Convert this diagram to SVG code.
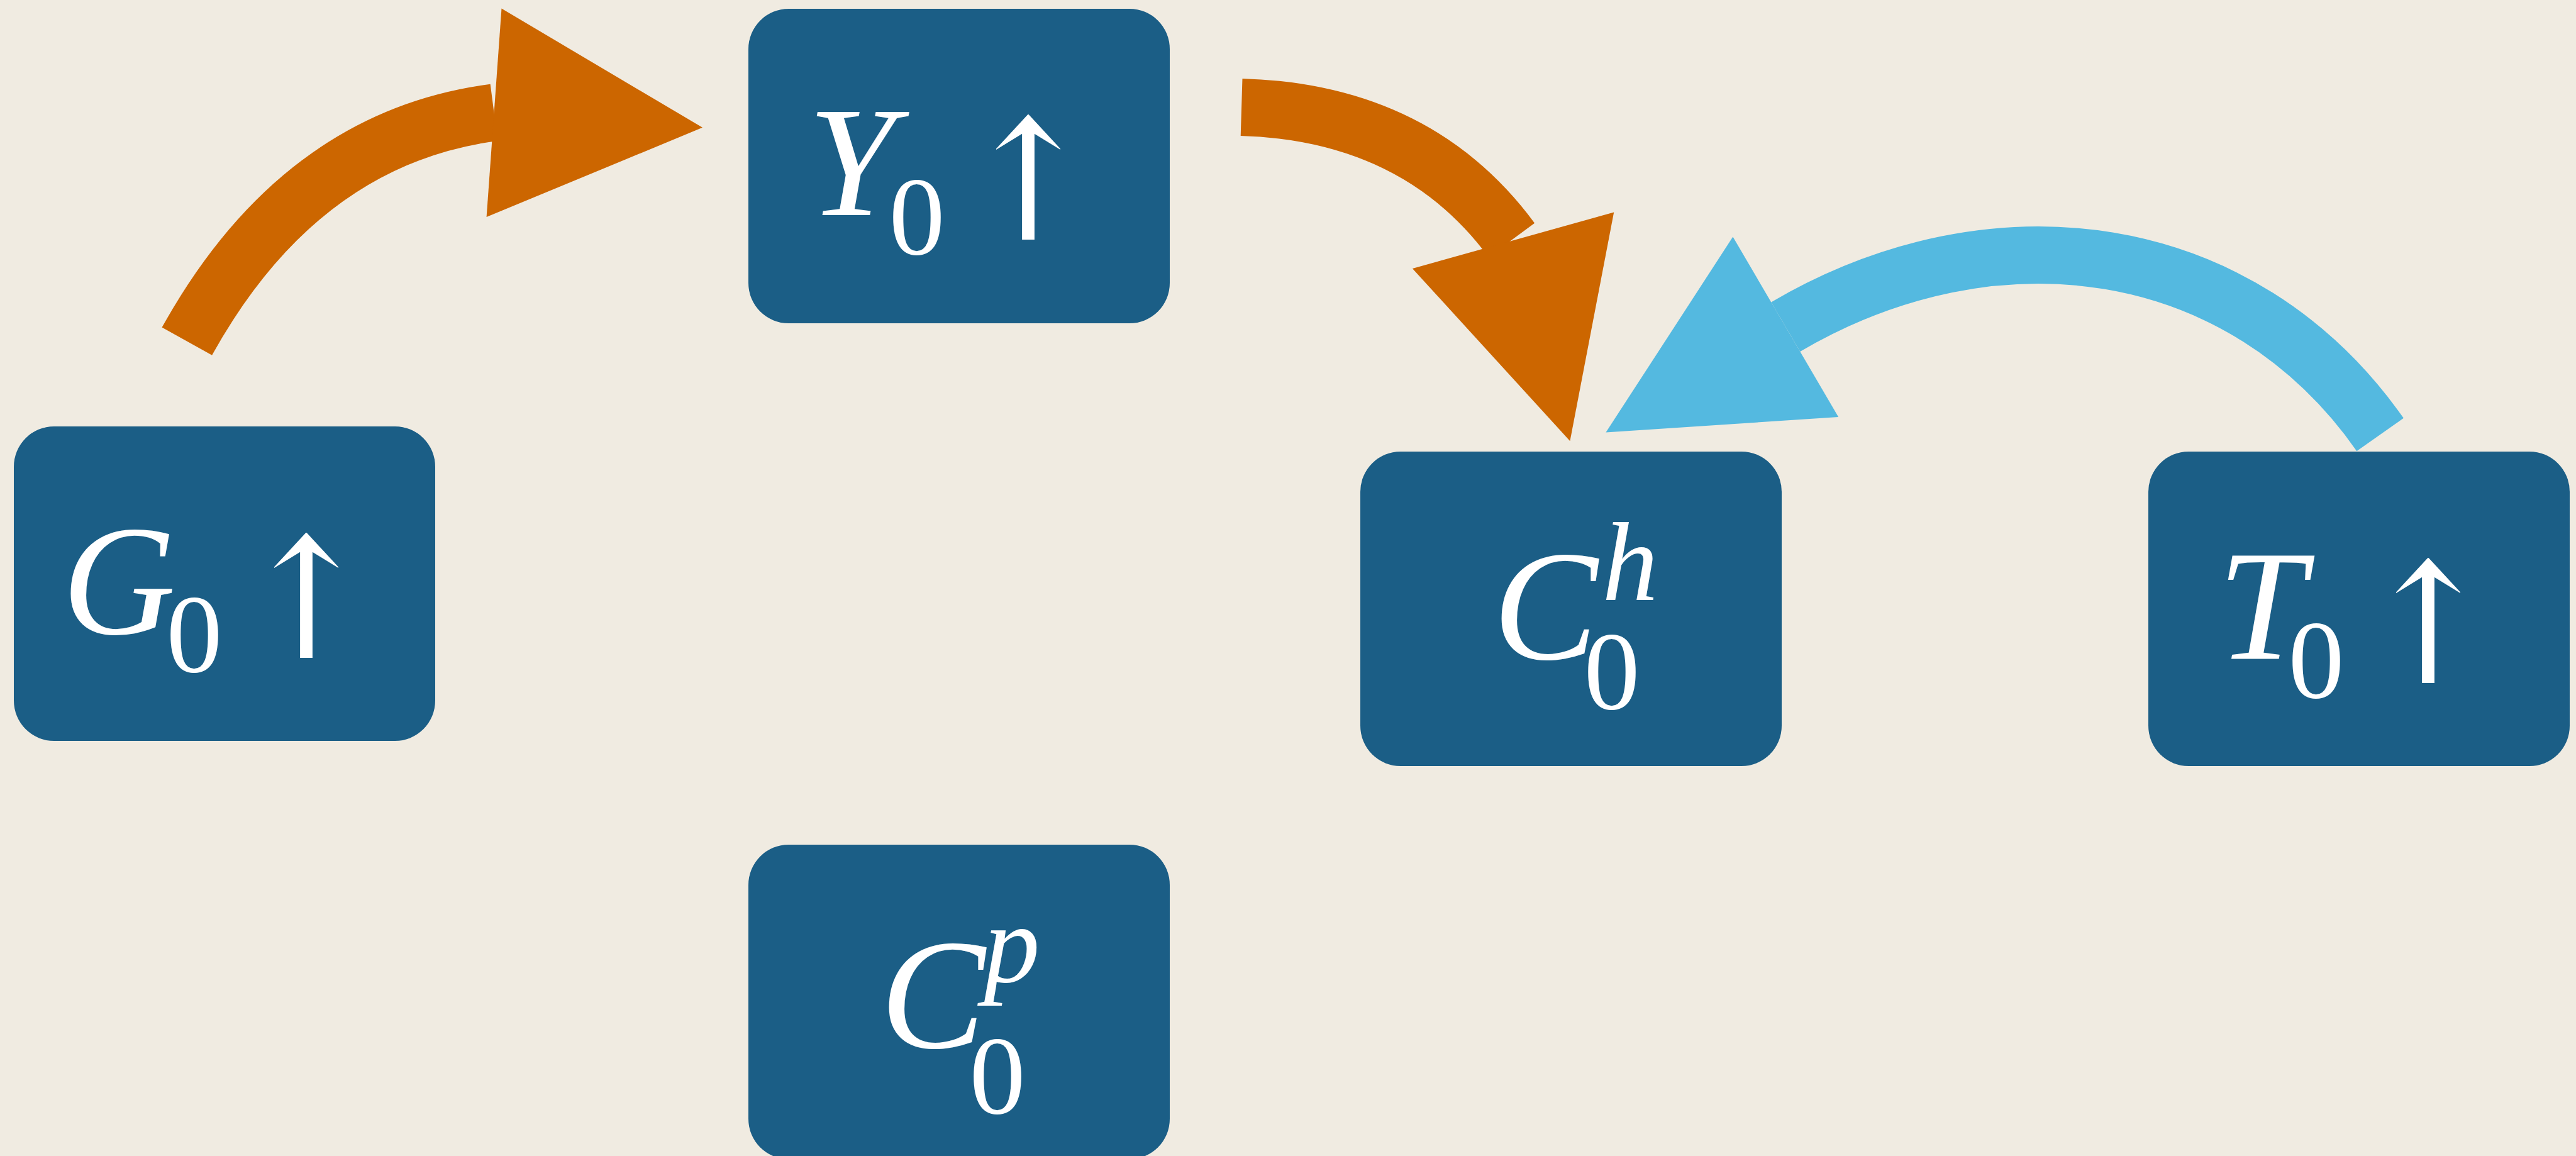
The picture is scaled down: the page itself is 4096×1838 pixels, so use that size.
<svg xmlns="http://www.w3.org/2000/svg" width="4096" height="1838" viewBox="0 0 4096 1838">
<style>
.bg{fill:#f0ebe1}
.box{fill:#1b5e86}
.t{fill:#ffffff;font-family:"Liberation Serif","Times New Roman",serif;text-anchor:middle}
.big{font-size:250px;font-style:italic}
.sub{font-size:178px}
.sup{font-size:178px;font-style:italic}
.arr{font-size:250px;font-family:"DejaVu Serif",serif}
.or{fill:none;stroke:#cc6600;stroke-width:91}
.orh{fill:#cc6600}
.bl{fill:none;stroke:#54b9e0;stroke-width:91}
.blh{fill:#54b9e0}
</style>
<rect class="bg" x="0" y="0" width="4096" height="1838"/>
<g id="G0">
<rect class="box" x="22" y="678" width="670" height="500" rx="64" ry="64"/>
<text class="t big" x="189" y="1008">G</text>
<text class="t sub" x="309" y="1068">0</text>
<text class="t arr" transform="translate(487,1046) scale(1,1.07)">↑</text>
</g>
<g id="Y0">
<rect class="box" x="1190" y="14" width="670" height="500" rx="64" ry="64"/>
<text class="t big" x="1354" y="342">Y</text>
<text class="t sub" x="1458" y="404">0</text>
<text class="t arr" transform="translate(1635,381) scale(1,1.07)">↑</text>
</g>
<g id="Ch0">
<rect class="box" x="2163" y="718" width="670" height="500" rx="64" ry="64"/>
<text class="t big" x="2457" y="1048">C</text>
<text class="t sup" x="2592" y="954">h</text>
<text class="t sub" x="2563" y="1127">0</text>
</g>
<g id="T0">
<rect class="box" x="3416" y="718" width="670" height="500" rx="64" ry="64"/>
<text class="t big" x="3596" y="1047">T</text>
<text class="t sub" x="3683" y="1109">0</text>
<text class="t arr" transform="translate(3861,1086) scale(1,1.07)">↑</text>
</g>
<g id="Cp0">
<rect class="box" x="1190" y="1343" width="670" height="500" rx="64" ry="64"/>
<text class="t big" x="1483" y="1666">C</text>
<text class="t sup" x="1609" y="1561">p</text>
<text class="t sub" x="1586" y="1770">0</text>
</g>
<g id="connectors">
<path class="or" d="M297.3,542.7 Q477,219 785.5,178.9"/>
<polygon class="orh" points="797.5,13.6 773.6,345.1 1117,202.8"/>
<path class="or" d="M1974.1,170.4 Q2253.6,178.9 2403.5,381.7"/>
<polygon class="orh" points="2245.9,426.9 2566.2,337.4 2496.4,701.2"/>
<path class="bl" d="M3784.6,691 C3563.9,376.6 3169.8,325.7 2839.3,519.7"/>
<polygon class="blh" points="2755.4,376.6 2923.2,662.9 2553.4,687.6"/>
</g>
</svg>
